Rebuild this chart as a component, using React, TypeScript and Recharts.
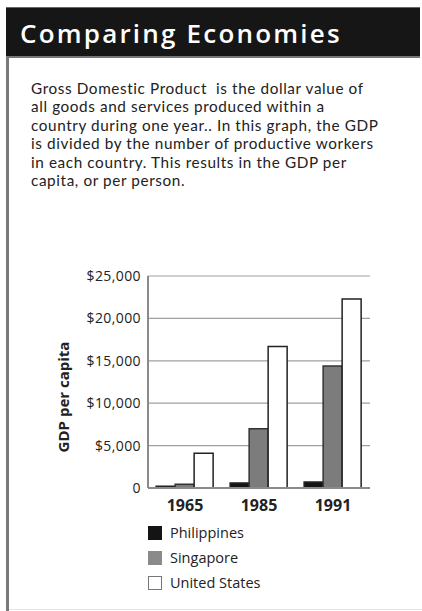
import React from "react";
import {
  BarChart,
  Bar,
  XAxis,
  YAxis,
  CartesianGrid,
  Legend,
  Label,
} from "recharts";

const years = ["1965", "1985", "1991"];
const philippines = [200, 600, 700];
const singapore = [450, 7000, 14400];
const unitedStates = [4100, 16700, 22300];
const yTicks = [0, 5000, 10000, 15000, 20000, 25000];

const series = [
  { key: "philippines", name: "Philippines", fill: "#141414", stroke: "#222" },
  { key: "singapore", name: "Singapore", fill: "#7c7c7c", stroke: "#333" },
  { key: "unitedStates", name: "United States", fill: "#ffffff", stroke: "#222" },
];

const data = years.map((year, i) => ({
  year,
  philippines: philippines[i],
  singapore: singapore[i],
  unitedStates: unitedStates[i],
}));

const introLines = [
  "Gross Domestic Product  is the dollar value of",
  "all goods and services produced within a",
  "country during one year.. In this graph, the GDP",
  "is divided by the number of productive workers",
  "in each country. This results in the GDP per",
  "capita, or per person.",
];

const font = "'Open Sans', sans-serif";

function formatMoney(v: number) {
  return v === 0 ? "0" : `$${v.toLocaleString("en-US")}`;
}

function LegendBox() {
  return (
    <div style={{ height: 75, fontFamily: font, fontSize: 14.5, color: "#222" }}>
      {series.map((s) => (
        <div
          key={s.key}
          style={{ height: 25, display: "flex", alignItems: "center", marginLeft: 108 }}
        >
          <span
            style={{
              width: 14,
              height: 14,
              boxSizing: "border-box",
              background: s.key === "singapore" ? "#8a8a8a" : s.fill,
              border: s.key === "unitedStates" ? "1.5px solid #777" : "none",
              marginRight: 8,
            }}
          />
          {s.name}
        </div>
      ))}
    </div>
  );
}

export default function App() {
  return (
    <div
      style={{
        position: "absolute",
        left: 0,
        top: 0,
        width: 422,
        height: 611,
        background: "#fff",
        overflow: "hidden",
      }}
    >
      {/* frame */}
      <div
        style={{
          position: "absolute",
          left: 6,
          top: 7,
          width: 3,
          height: 604,
          background: "#7a7a7a",
        }}
      />
      <div
        style={{
          position: "absolute",
          left: 9,
          top: 609,
          width: 413,
          height: 1,
          background: "#e4e4e4",
        }}
      />
      <div
        style={{
          position: "absolute",
          left: 6,
          top: 7,
          width: 414,
          height: 51,
          background: "#161616",
          borderTop: "1px solid #666",
          borderBottom: "2px solid #777",
          boxSizing: "border-box",
          color: "#fff",
          fontFamily: font,
          fontWeight: 600,
          fontSize: 26,
          letterSpacing: 2.2,
          lineHeight: "50px",
          paddingLeft: 14,
        }}
      >
        Comparing Economies
      </div>

      <div
        style={{
          position: "absolute",
          left: 31,
          top: 79,
          fontFamily: "Lato, sans-serif",
          fontSize: 15.3,
          letterSpacing: 0.6,
          lineHeight: "18.4px",
          color: "#222",
          whiteSpace: "pre",
        }}
      >
        {introLines.map((l, i) => (
          <div key={i}>{l}</div>
        ))}
      </div>

      <div style={{ position: "absolute", left: 40, top: 260 }}>
        <BarChart
          width={340}
          height={351}
          data={data}
          margin={{ top: 16, right: 10, bottom: 16, left: 0 }}
          barCategoryGap="11%"
          barGap={0}
        >
          <CartesianGrid
            vertical={false}
            stroke="#a0a0a0"
            strokeWidth={1.2}
          />
          <XAxis
            dataKey="year"
            height={32}
            tickLine={false}
            tickSize={0}
            tickMargin={12}
            axisLine={{ stroke: "#8a8a8a", strokeWidth: 2 }}
            tick={{ fontFamily: font, fontSize: 16, fontWeight: 700, fill: "#222" }}
          />
          <YAxis
            width={108}
            domain={[0, 25000]}
            ticks={yTicks}
            interval={0}
            tickFormatter={formatMoney}
            tickLine={false}
            tickSize={0}
            tickMargin={7}
            axisLine={{ stroke: "#8a8a8a", strokeWidth: 2 }}
            tick={{ fontFamily: font, fontSize: 14, letterSpacing: 0.4, fill: "#222" }}
          >
            <Label
              content={({ viewBox }: any) => {
                const cx = viewBox.x + 23;
                const cy = viewBox.y + viewBox.height / 2 + 15;
                return (
                  <text
                    x={cx}
                    y={cy}
                    transform={`rotate(-90 ${cx} ${cy})`}
                    textAnchor="middle"
                    dominantBaseline="central"
                    fontFamily={font}
                    fontSize={15}
                    fontWeight={700}
                    fill="#222"
                  >
                    GDP per capita
                  </text>
                );
              }}
            />
          </YAxis>
          <YAxis
            yAxisId="right"
            orientation="right"
            width={0}
            domain={[0, 25000]}
            tick={false}
            tickLine={false}
            axisLine={{ stroke: "#8a8a8a", strokeWidth: 2 }}
          />
          {series.map((s) => (
            <Bar
              key={s.key}
              dataKey={s.key}
              name={s.name}
              fill={s.fill}
              stroke={s.stroke}
              strokeWidth={1.5}
              isAnimationActive={false}
            />
          ))}
          <Legend verticalAlign="bottom" align="left" content={() => <LegendBox />} />
        </BarChart>
      </div>
    </div>
  );
}
